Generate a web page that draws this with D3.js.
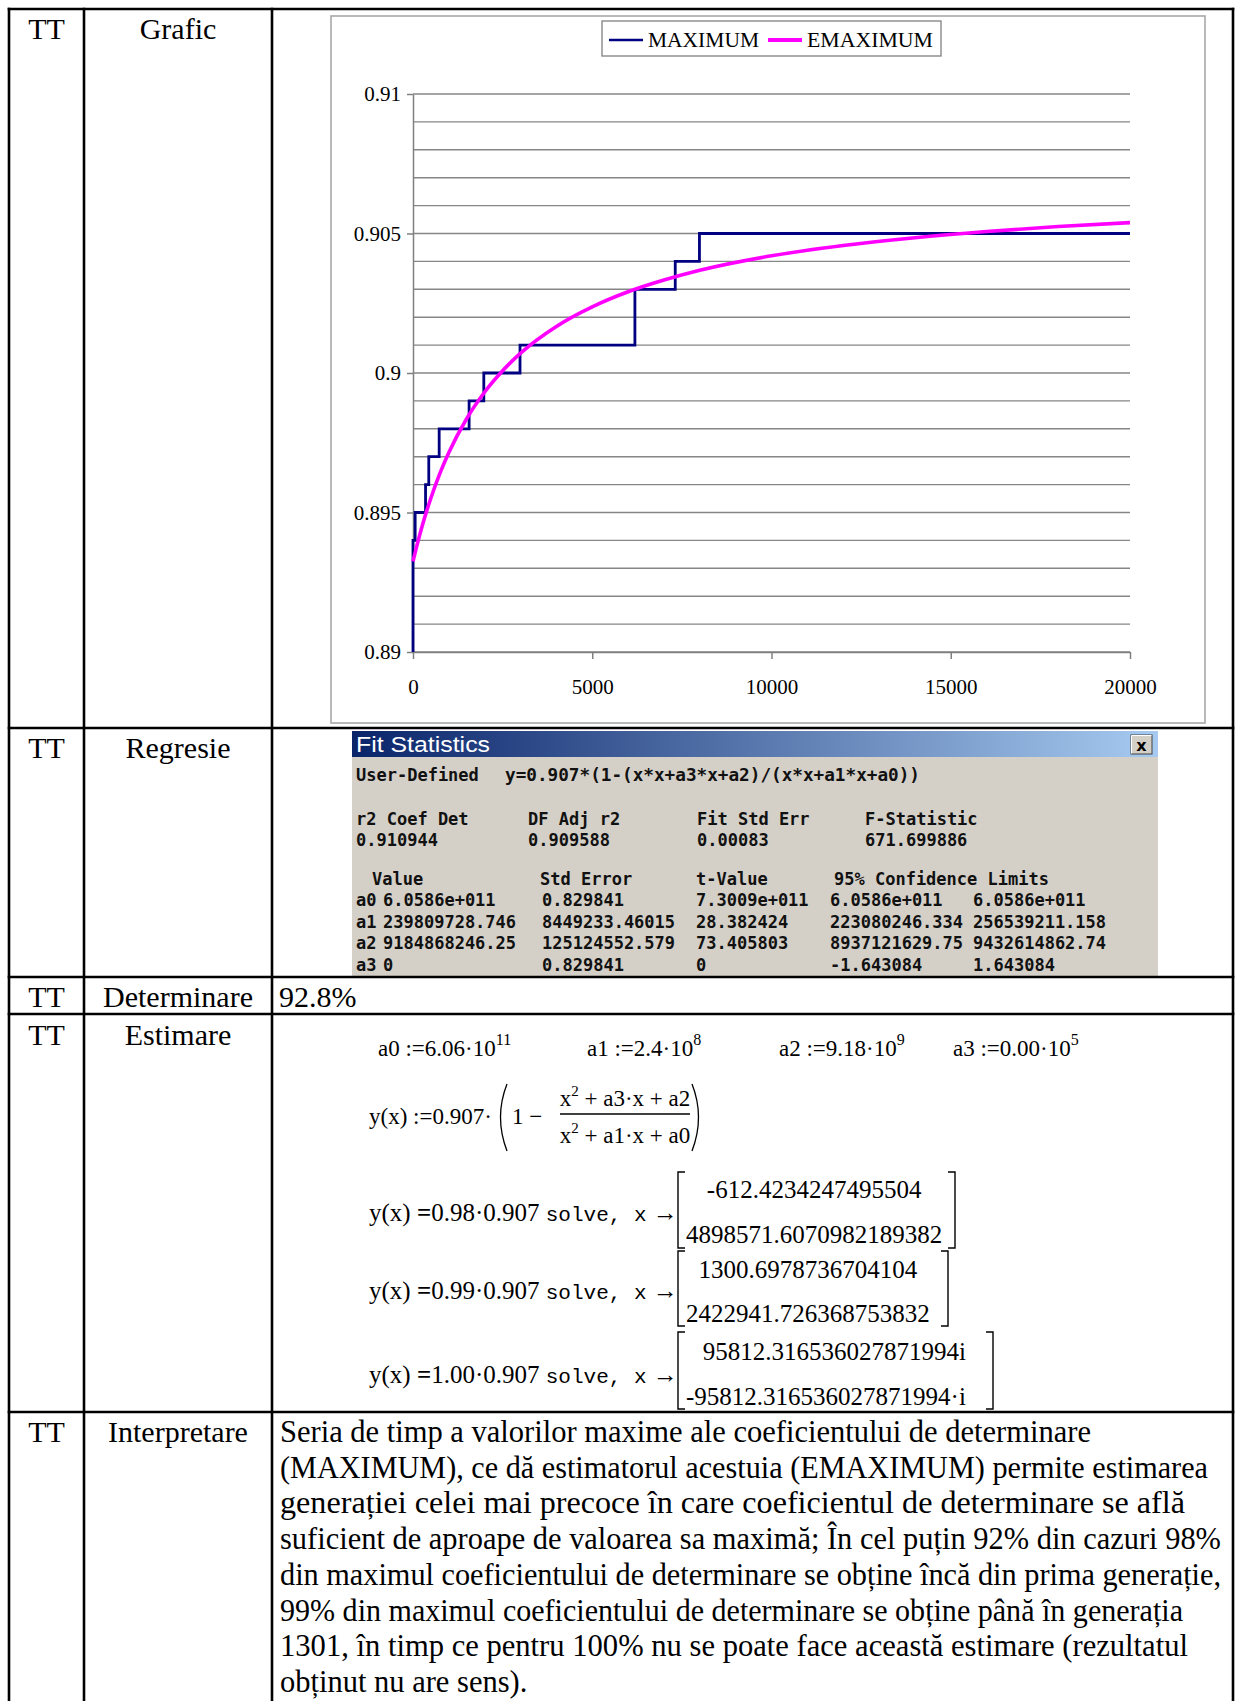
<!DOCTYPE html>
<html><head><meta charset="utf-8"><title>MAXIMUM / EMAXIMUM</title>
<script src="https://cdn.jsdelivr.net/npm/d3@7/dist/d3.min.js"></script>
<style>html,body{margin:0;padding:0;background:#fff}svg{display:block}</style>
</head><body>
<svg id="page" width="1236" height="1701" xmlns="http://www.w3.org/2000/svg"></svg>
<script>
// ---------------- DATA ----------------
const xTickValues = [0, 5000, 10000, 15000, 20000];
const xTickLabels = ["0", "5000", "10000", "15000", "20000"];
const yTickValues = [0.89, 0.895, 0.9, 0.905, 0.91];
const yTickLabels = ["0.89", "0.895", "0.9", "0.905", "0.91"];
const seriesNames = ["MAXIMUM", "EMAXIMUM"];

// MAXIMUM: step series (generation where a new level starts, level value)
const maxGeneration = [0, 0, 60, 350, 440, 730, 1565, 1975, 2985, 6190, 7315, 7990, 20000];
const maxValue      = [0.890, 0.894, 0.895, 0.896, 0.897, 0.898, 0.899, 0.900, 0.901, 0.903, 0.904, 0.905, 0.905];

// EMAXIMUM: estimator curve
const emaxGeneration = [0, 100, 250, 500, 750, 1000, 1500, 2000, 2500, 3000, 4000, 5000, 6000, 7000, 8000, 10000, 12000, 14000, 16000, 18000, 20000];
const emaxValue      = [0.89325, 0.89377, 0.89449, 0.89552, 0.89640, 0.89715, 0.89837, 0.89932, 0.90008, 0.90071, 0.90167, 0.90237, 0.90291, 0.90333, 0.90368, 0.90420, 0.90457, 0.90485, 0.90507, 0.90525, 0.90539];

const rowCodes  = ["TT", "TT", "TT", "TT", "TT"];
const rowLabels = ["Grafic", "Regresie", "Determinare", "Estimare", "Interpretare"];
const determinareText = "92.8%";

const fitTitle = "Fit Statistics";
const fitModel = ["User-Defined", "y=0.907*(1-(x*x+a3*x+a2)/(x*x+a1*x+a0))"];
const fitHead1 = ["r2 Coef Det", "DF Adj r2", "Fit Std Err", "F-Statistic"];
const fitVals1 = ["0.910944", "0.909588", "0.00083", "671.699886"];
const fitHead2 = ["Value", "Std Error", "t-Value", "95% Confidence Limits"];
const paramNames = ["a0", "a1", "a2", "a3"];
const paramValue = ["6.0586e+011", "239809728.746", "9184868246.25", "0"];
const paramStdErr = ["0.829841", "8449233.46015", "125124552.579", "0.829841"];
const paramT = ["7.3009e+011", "28.382424", "73.405803", "0"];
const paramLo = ["6.0586e+011", "223080246.334", "8937121629.75", "-1.643084"];
const paramHi = ["6.0586e+011", "256539211.158", "9432614862.74", "1.643084"];

const estConst = [["a0 :=6.06·10", "11"], ["a1 :=2.4·10", "8"], ["a2 :=9.18·10", "9"], ["a3 :=0.00·10", "5"]];
const solveLevels = ["0.98·0.907", "0.99·0.907", "1.00·0.907"];
const solveRoots = [["-612.4234247495504", "4898571.6070982189382"],
                    ["1300.6978736704104", "2422941.726368753832"],
                    ["95812.316536027871994i", "-95812.316536027871994·i"]];

const interpretareLines = [
  "Seria de timp a valorilor maxime ale coeficientului de determinare",
  "(MAXIMUM), ce dă estimatorul acestuia (EMAXIMUM) permite estimarea",
  "generației celei mai precoce în care coeficientul de determinare se află",
  "suficient de aproape de valoarea sa maximă; În cel puțin 92% din cazuri 98%",
  "din maximul coeficientului de determinare se obține încă din prima generație,",
  "99% din maximul coeficientului de determinare se obține până în generația",
  "1301, în timp ce pentru 100% nu se poate face această estimare (rezultatul",
  "obținut nu are sens)."
];

// ---------------- DRAWING ----------------
const SERIF = "'Liberation Serif','Times New Roman',serif";
const MONO = "'DejaVu Sans Mono','Liberation Mono',monospace";
const svg = d3.select("#page");
svg.append("rect").attr("width", 1236).attr("height", 1701).attr("fill", "#fff");
const defs = svg.append("defs");

function txt(p, x, y, s, o = {}) {
  const t = p.append("text").attr("x", x).attr("y", y).text(s)
    .attr("font-family", o.ff || SERIF).attr("font-size", o.fs || 30)
    .attr("fill", o.fill || "#000").attr("text-anchor", o.anchor || "start")
    .style("white-space", "pre");
  if (o.fw) t.attr("font-weight", o.fw);
  if (o.len) t.attr("textLength", o.len).attr("lengthAdjust", "spacingAndGlyphs");
  return t;
}

// ---- Chart ----
const chart = svg.append("g");
chart.append("rect").attr("x", 331).attr("y", 16).attr("width", 874).attr("height", 707)
  .attr("fill", "#fff").attr("stroke", "#a8a8a8").attr("stroke-width", 1.6);

const x = d3.scaleLinear().domain([0, 20000]).range([413, 1130]);
const y = d3.scaleLinear().domain([0.89, 0.91]).range([652, 94]);

chart.append("g").selectAll("line").data(y.ticks(20)).join("line")
  .attr("x1", x(0)).attr("x2", x(20000))
  .attr("y1", d => y(d)).attr("y2", d => y(d))
  .attr("stroke", "#868686").attr("stroke-width", 1.4);

const yAx = chart.append("g").attr("transform", `translate(${x(0)},0)`)
  .call(d3.axisLeft(y).tickValues(yTickValues).tickFormat((d, i) => yTickLabels[i])
    .tickSize(6).tickPadding(6).tickSizeOuter(0));
const xAx = chart.append("g").attr("transform", `translate(0,${y(0.89)})`)
  .call(d3.axisBottom(x).tickValues(xTickValues).tickFormat((d, i) => xTickLabels[i])
    .tickSize(7).tickPadding(20).tickSizeOuter(0));
[yAx, xAx].forEach(a => {
  a.select(".domain").attr("stroke", "#808080").attr("stroke-width", 1.5);
  a.selectAll(".tick line").attr("stroke", "#808080").attr("stroke-width", 1.5);
  a.selectAll("text").attr("font-family", SERIF).attr("font-size", 21).attr("fill", "#000");
});

const maxData = maxGeneration.map((g, i) => ({ g, v: maxValue[i] }));
const emaxData = emaxGeneration.map((g, i) => ({ g, v: emaxValue[i] }));
chart.append("path").datum(maxData)
  .attr("d", d3.line().x(d => x(d.g)).y(d => y(d.v)).curve(d3.curveStepAfter))
  .attr("fill", "none").attr("stroke", "#000080").attr("stroke-width", 2.8);
chart.append("path").datum(emaxData)
  .attr("d", d3.line().x(d => x(d.g)).y(d => y(d.v)).curve(d3.curveMonotoneX))
  .attr("fill", "none").attr("stroke", "#ff00ff").attr("stroke-width", 3.6);

// legend
const lg = chart.append("g");
lg.append("rect").attr("x", 602).attr("y", 21).attr("width", 339).attr("height", 35)
  .attr("fill", "#fff").attr("stroke", "#808080").attr("stroke-width", 1.3);
const legendColors = ["#000080", "#ff00ff"], legendW = [2.6, 4], legendX = [609, 768], legendLen = [111, 126];
lg.selectAll("g.item").data(seriesNames).join("g").attr("class", "item").each(function (name, i) {
  const it = d3.select(this);
  it.append("line").attr("x1", legendX[i]).attr("x2", legendX[i] + 34).attr("y1", 40).attr("y2", 40)
    .attr("stroke", legendColors[i]).attr("stroke-width", legendW[i]);
  txt(it, legendX[i] + 39, 47, name, { fs: 22, len: legendLen[i] });
});

// ---- Fit Statistics panel ----
const grad = defs.append("linearGradient").attr("id", "tb").attr("x1", 0).attr("x2", 1).attr("y1", 0).attr("y2", 0);
grad.append("stop").attr("offset", 0).attr("stop-color", "#0a246a");
grad.append("stop").attr("offset", 1).attr("stop-color", "#a6caf0");
const fs = svg.append("g");
fs.append("rect").attr("x", 352).attr("y", 731).attr("width", 806).attr("height", 245).attr("fill", "#d4d0c8");
fs.append("rect").attr("x", 352).attr("y", 731).attr("width", 806).attr("height", 26).attr("fill", "url(#tb)");
txt(fs, 356, 752, fitTitle, { ff: "'Liberation Sans','Arial',sans-serif", fs: 22, fill: "#fff", len: 134 });
// close button
fs.append("rect").attr("x", 1131).attr("y", 735).attr("width", 21).attr("height", 19).attr("fill", "#d4d0c8")
  .attr("stroke", "#404040").attr("stroke-width", 1);
fs.append("path").attr("d", "M1131.5 753.5 V735.5 H1151.5").attr("stroke", "#fff").attr("fill", "none");
txt(fs, 1141.5, 751, "x", { ff: "'DejaVu Sans',sans-serif", fs: 16, fw: "bold", anchor: "middle" });

const MF = { ff: MONO, fs: 17, fw: "bold", fill: "#111" };
txt(fs, 356, 781, fitModel[0], MF);
txt(fs, 505, 781, fitModel[1], Object.assign({}, MF, { len: 415 }));
const colA = [356, 528, 697, 865];
fitHead1.forEach((s, i) => txt(fs, colA[i], 825, s, MF));
fitVals1.forEach((s, i) => txt(fs, colA[i], 846, s, MF));
const colB = [372, 540, 696, 834];
fitHead2.forEach((s, i) => txt(fs, colB[i], 885, s, MF));
const rowY = [906, 928, 949, 971];
paramNames.forEach((n, i) => {
  txt(fs, 356, rowY[i], n, MF);
  txt(fs, 383, rowY[i], paramValue[i], MF);
  txt(fs, 542, rowY[i], paramStdErr[i], MF);
  txt(fs, 696, rowY[i], paramT[i], MF);
  txt(fs, 830, rowY[i], paramLo[i], MF);
  txt(fs, 973, rowY[i], paramHi[i], MF);
});

// ---- Estimare (MathCAD) ----
const est = svg.append("g");
const constX = [378, 587, 779, 953];
estConst.forEach((c, i) => {
  const t = txt(est, constX[i], 1056, c[0], { fs: 23 });
  t.append("tspan").attr("dy", -11).attr("font-size", 16).text(c[1]);
});
txt(est, 369, 1124, "y(x) :=0.907·", { fs: 23 });
est.append("path").attr("d", "M507 1084 Q494 1117 507 1151").attr("fill", "none").attr("stroke", "#000").attr("stroke-width", 1.3);
est.append("path").attr("d", "M692 1084 Q705 1117 692 1151").attr("fill", "none").attr("stroke", "#000").attr("stroke-width", 1.3);
txt(est, 512, 1124, "1 −", { fs: 23 });
const num = txt(est, 625, 1106, "x", { fs: 23, anchor: "middle" });
num.append("tspan").attr("dy", -10).attr("font-size", 15).text("2");
num.append("tspan").attr("dy", 10).text(" + a3·x + a2");
est.append("line").attr("x1", 560).attr("x2", 690).attr("y1", 1114).attr("y2", 1114).attr("stroke", "#000").attr("stroke-width", 1.3);
const den = txt(est, 625, 1143, "x", { fs: 23, anchor: "middle" });
den.append("tspan").attr("dy", -10).attr("font-size", 15).text("2");
den.append("tspan").attr("dy", 10).text(" + a1·x + a0");

const mTop = [1172, 1251, 1332], mBot = [1248, 1326, 1409], mRight = [955, 948, 993];
const eqY = [1221, 1299, 1383];
const entryY = [[1198, 1243], [1278, 1322], [1360, 1405]];
solveLevels.forEach((lv, i) => {
  const t = est.append("text").attr("x", 369).attr("y", eqY[i]).attr("font-family", SERIF).attr("font-size", 25).style("white-space", "pre");
  t.append("tspan").text("y(x) ");
  t.append("tspan").attr("font-weight", "bold").text("=");
  t.append("tspan").text(lv + " ");
  t.append("tspan").attr("font-family", "'Liberation Mono','Courier New',monospace").attr("font-size", 21).text("solve, x");
  t.append("tspan").text(" →");
  const bot = txt(est, 686, entryY[i][1], solveRoots[i][1], { fs: 25 });
  const bw = bot.node().getComputedTextLength();
  if (i < 2) txt(est, 686 + bw / 2, entryY[i][0], solveRoots[i][0], { fs: 25, anchor: "middle" });
  else txt(est, 686 + bw, entryY[i][0], solveRoots[i][0], { fs: 25, anchor: "end" });
  const rb = Math.max(mRight[i], 686 + bw + 8);
  est.append("path").attr("d", `M685 ${mTop[i]} H678 V${mBot[i]} H685`).attr("fill", "none").attr("stroke", "#000").attr("stroke-width", 1.4);
  est.append("path").attr("d", `M${rb - 7} ${mTop[i]} H${rb} V${mBot[i]} H${rb - 7}`).attr("fill", "none").attr("stroke", "#000").attr("stroke-width", 1.4);
});

// ---- Table text ----
const labBase = [39, 758, 1007, 1045, 1442];
rowLabels.forEach((l, i) => {
  txt(svg, 46.5, labBase[i], rowCodes[i], { fs: 30, anchor: "middle" });
  txt(svg, 178, labBase[i], l, { fs: 30, anchor: "middle" });
});
txt(svg, 279, 1007, determinareText, { fs: 30 });
const lineEnds = [1091, 1208, 1185, 1221, 1221, 1183, 1188, null];
interpretareLines.forEach((s, i) => {
  const o = { fs: 30.5 };
  if (lineEnds[i]) o.len = lineEnds[i] - 280;
  txt(svg, 280, 1442 + i * 35.7, s, o);
});

// ---- Table grid ----
const tableX = [9, 84, 272, 1233];
const tableY = [9, 728, 977, 1014, 1412];
const grid = svg.append("g").attr("stroke", "#000").attr("stroke-width", 2.6);
grid.selectAll("line.v").data(tableX).join("line").attr("class", "v")
  .attr("x1", d => d).attr("x2", d => d).attr("y1", 7.7).attr("y2", 1720);
grid.selectAll("line.h").data(tableY).join("line").attr("class", "h")
  .attr("x1", 7.7).attr("x2", 1234.3).attr("y1", d => d).attr("y2", d => d);
</script>
</body></html>
